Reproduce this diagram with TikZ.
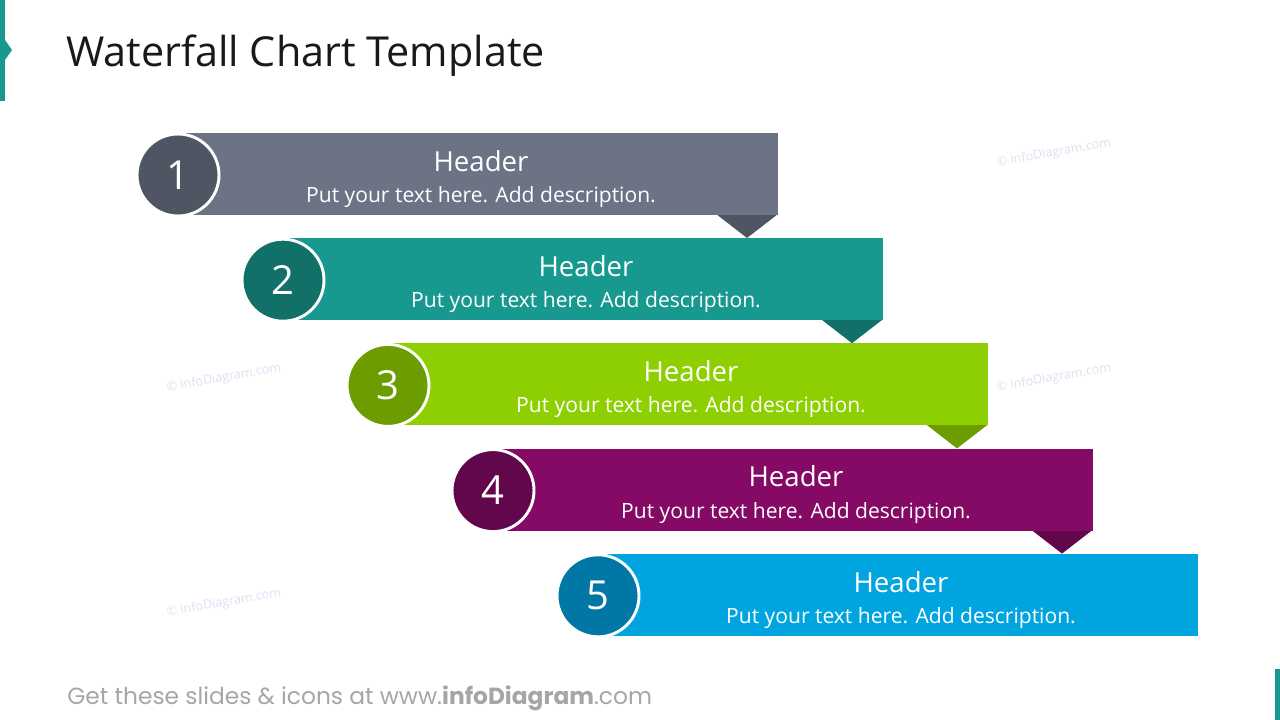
\documentclass[tikz,border=0pt]{standalone}
\usepackage{fontspec}
\setmainfont{Open Sans}
\newfontfamily\footfont{Poppins}
\definecolor{teal}{HTML}{17998F}
\definecolor{bandA}{HTML}{6B7385}\definecolor{circA}{HTML}{4F5563}
\definecolor{bandB}{HTML}{17998F}\definecolor{circB}{HTML}{117068}
\definecolor{bandC}{HTML}{8DCF00}\definecolor{circC}{HTML}{6C9C00}
\definecolor{bandD}{HTML}{840A65}\definecolor{circD}{HTML}{62074B}
\definecolor{bandE}{HTML}{00A5E0}\definecolor{circE}{HTML}{0077A5}
\definecolor{wmark}{HTML}{D9E2F0}
\definecolor{footgray}{HTML}{A6A6A6}
\tikzset{
  headtxt/.style={text=white,font=\fontsize{20.7}{22}\selectfont,inner sep=0pt},
  desctxt/.style={text=white,font=\fontsize{15.8}{17}\selectfont,inner sep=0pt},
  numcirc/.style={circle,draw=white,line width=2.2pt,minimum size=61.5pt,inner sep=0pt,text=white,font=\fontsize{30}{32}\selectfont},
  wm/.style={text=wmark,rotate=10,font=\fontsize{9.5}{11}\selectfont,inner sep=0pt}
}
\begin{document}
\begin{tikzpicture}[x=0.75pt,y=-0.75pt]
\useasboundingbox (0,0) rectangle (1280,720);
% accents
\fill[teal] (0,0) rectangle (5,101);
\fill[teal] (5,40) -- (12,50) -- (5,60) -- cycle;
\fill[teal] (1275,669) rectangle (1280,720);
% title
\node[anchor=west,inner sep=0pt,text=black!90,font=\fontsize{31}{34}\selectfont] (title) at (66,56) {Waterfall Chart Template};
% watermarks
\node[wm] (wm1) at (1054,153) {© infoDiagram.com};
\node[wm] (wm2) at (1054,378) {© infoDiagram.com};
\node[wm] (wm3) at (224,378) {© infoDiagram.com};
\node[wm] (wm4) at (224,603) {© infoDiagram.com};
% bands
\foreach \i/\bc/\cc/\tri in {0/bandA/circA/1,1/bandB/circB/1,2/bandC/circC/1,3/bandD/circD/1,4/bandE/circE/0}{
  \pgfmathsetmacro{\dx}{105*\i}
  \pgfmathsetmacro{\dy}{105.2*\i}
  \begin{scope}[shift={(\dx,\dy)}]
    \ifnum\tri=1
      \fill[\cc] (716,214) -- (778,214) -- (747,238) -- cycle;
    \fi
    \fill[\bc] (177,133) rectangle (778,215);
    \node[headtxt] (h\i) at (481,161) {Header};
    \node[desctxt] (d\i) at (481,197) {Put your text here. Add description.};
    \pgfmathtruncatemacro{\n}{\i+1}
    \node[numcirc,fill=\cc] (c\i) at (178,175) {\n};
  \end{scope}
}
% footer
\node[anchor=west,inner sep=0pt,text=footgray,font=\footfont\fontsize{17.5}{20}\selectfont] (foot) at (67,698) {Get these slides \& icons at www.\textbf{infoDiagram}.com};
\end{tikzpicture}
\end{document}
